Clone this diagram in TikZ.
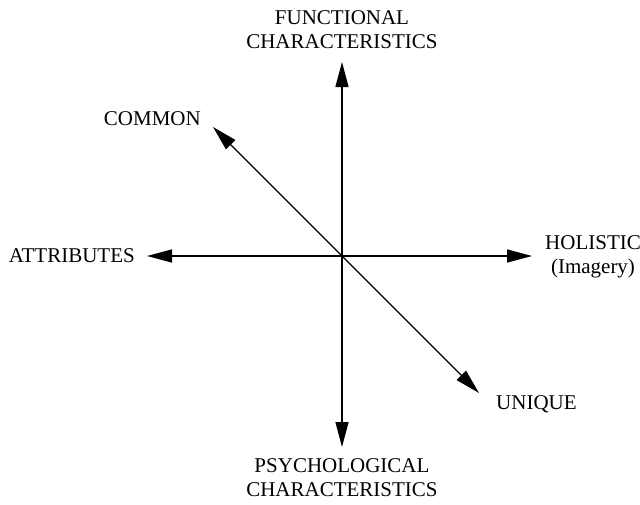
\documentclass[tikz,border=0pt]{standalone}
\usepackage{fontspec}
\setmainfont{Liberation Serif}
\usetikzlibrary{arrows.meta}

\begin{document}
\begin{tikzpicture}[
  x=1pt, y=-1pt,
  axis/.style={line width=1.4pt,
    {Triangle[length=25pt, width=13pt]}-{Triangle[length=25pt, width=13pt]}},
  lbl/.style={inner sep=0pt, align=center, font=\fontsize{21}{24}\selectfont}
]
  \useasboundingbox (0, 0) rectangle (640, 504);

  \coordinate (o) at (342, 256);
  \coordinate (n) at (342, 62);
  \coordinate (s) at (342, 447);
  \coordinate (w) at (147, 256);
  \coordinate (e) at (532, 256);
  \coordinate (nw) at (213, 127);
  \coordinate (se) at (479, 393);

  \node[lbl] (func) at (342, 30) {FUNCTIONAL\\CHARACTERISTICS};
  \node[lbl] (psych) at (342, 478) {PSYCHOLOGICAL\\CHARACTERISTICS};
  \node[lbl, anchor=east] (attr) at (135, 256) {ATTRIBUTES};
  \node[lbl] (holi) at (593, 257) {HOLISTIC\\(Imagery)};
  \node[lbl, anchor=east] (common) at (201, 119) {COMMON};
  \node[lbl, anchor=west] (unique) at (496, 404) {UNIQUE};

  \draw[axis] (s) -- (n);
  \draw[axis] (w) -- (e);
  \draw[axis] (nw) -- (se);
\end{tikzpicture}
\end{document}
